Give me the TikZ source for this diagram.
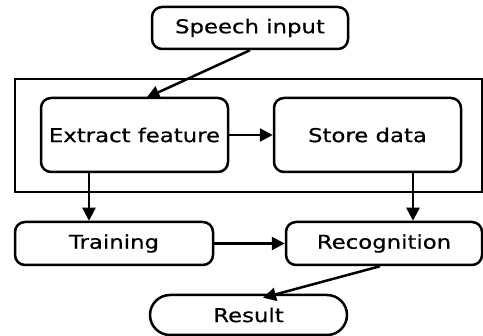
\documentclass[tikz,border=0pt]{standalone}
\usepackage{fontspec}
\setmainfont[FakeStretch=1.2,FakeBold=0.6]{DejaVu Sans}
\usetikzlibrary{arrows.meta,calc}
\begin{document}
\begin{tikzpicture}[x=1pt,y=-1pt,
  box/.style={draw,line width=2.5pt,rounded corners=10pt,inner sep=0pt,
    font=\fontsize{19}{21}\selectfont},
  pill/.style={box,rounded corners=20pt},
  conn/.style={line width=2.5pt,-{Triangle[length=13pt,width=13pt]}}]
\useasboundingbox (0,0) rectangle (483,336);
% enclosing frame around the processing stage
\node[draw,line width=2.5pt,minimum width=467pt,minimum height=113pt,inner sep=0pt] (frame) at (248.5,135.5) {};
\node[box,minimum width=196pt,minimum height=42pt] (speech) at (250,28) {Speech input};
\node[box,minimum width=187pt,minimum height=74pt] (extract) at (134.5,135) {Extract feature};
\node[box,minimum width=187pt,minimum height=74pt] (store) at (367.5,135) {Store data};
\node[box,minimum width=198pt,minimum height=43pt] (training) at (114,243.5) {Training};
\node[box,minimum width=196pt,minimum height=43pt] (recog) at (384,243.5) {Recognition};
\node[pill,minimum width=197pt,minimum height=40pt] (result) at (248.5,315) {Result};
% connectors
\draw[conn] (speech.south) -- ([xshift=12pt,yshift=-1pt]extract.north);
\draw[conn] (extract.east) -- (store.west);
\draw[conn] ([xshift=-45.5pt]extract.south) -- ([xshift=-45.5pt]extract.south |- training.north);
\draw[conn] ([xshift=45.5pt]store.south) -- ([xshift=45.5pt]store.south |- recog.north);
\draw[conn] (training.east) -- (recog.west);
\draw[conn] ([xshift=-4pt]recog.south) -- ([xshift=14.5pt,yshift=-4pt]result.north);
\end{tikzpicture}
\end{document}
